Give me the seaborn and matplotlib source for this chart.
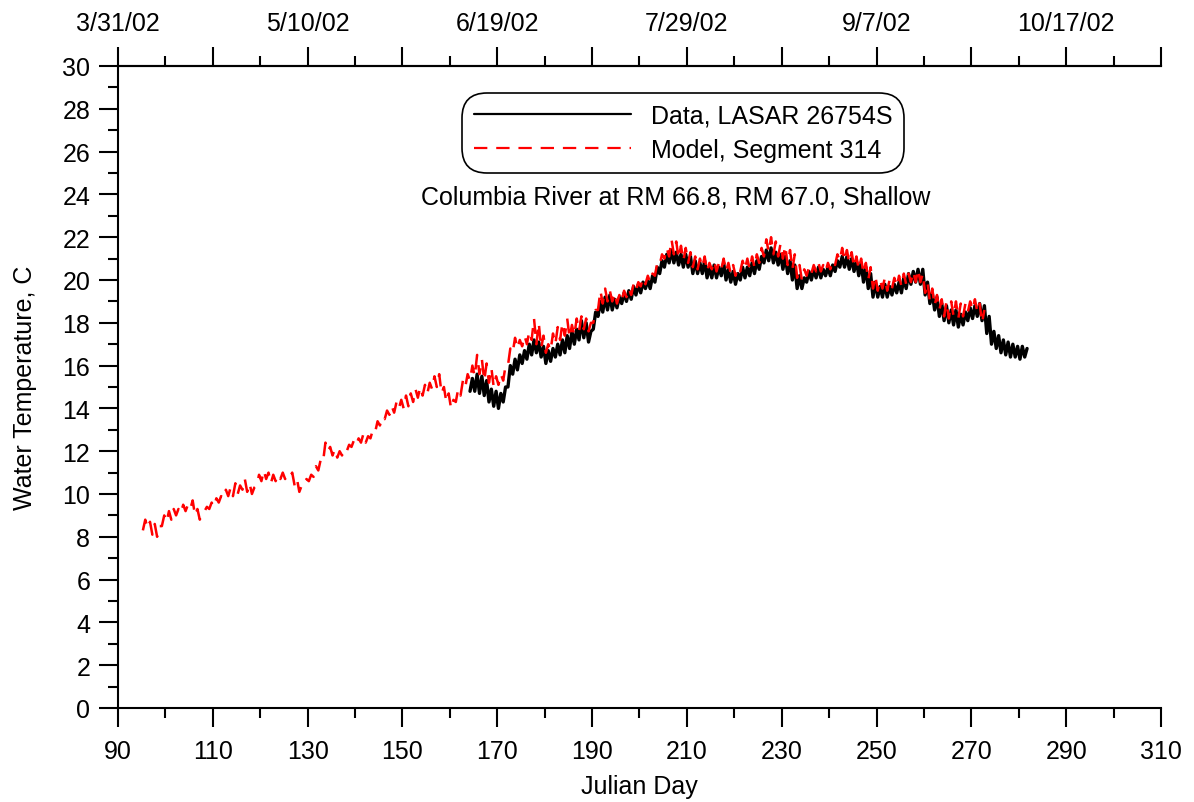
import numpy as np
import pandas as pd
import matplotlib
matplotlib.use("Agg")
import matplotlib.pyplot as plt
import seaborn as sns

# ---------------- data ----------------
model_days = list(range(95, 273))
model_lo = [8.3, 8.4, 8.1, 8.0, 8.5, 8.7, 8.8, 9.0, 9.1, 9.2, 9.3, 9.0, 8.8, 9.2, 9.3, 9.4,
            9.6, 9.8, 9.9, 9.9, 10.0, 10.2, 10.1, 10.0, 10.4, 10.6, 10.7, 10.5, 10.6, 10.7,
            10.7, 10.8, 10.4, 10.1, 10.4, 10.6, 10.8, 11.1, 11.5, 12.0, 11.8, 11.7, 11.8,
            12.0, 12.2, 12.3, 12.4, 12.4, 12.6, 12.9, 13.2, 13.5, 13.7, 13.8, 14.0, 14.0,
            14.1, 14.3, 14.5, 14.6, 14.7, 14.9, 15.0, 14.7, 14.3, 14.0, 14.3, 14.6, 15.0,
            15.3, 15.5, 15.6, 15.3, 15.2, 15.0, 15.1, 15.3, 16.0, 16.6, 16.8, 16.9, 17.0,
            17.2, 17.0, 16.8, 16.6, 16.7, 17.0, 17.2, 17.4, 17.3, 17.4, 17.6, 17.7, 17.6,
            18.0, 18.6, 18.9, 19.0, 19.0, 18.9, 19.0, 19.2, 19.3, 19.5, 19.7, 19.8, 19.9,
            20.2, 20.7, 21.0, 21.1, 21.2, 21.0, 20.9, 20.8, 20.6, 20.5, 20.6, 20.4, 20.5,
            20.4, 20.5, 20.4, 20.3, 20.2, 20.4, 20.5, 20.5, 20.6, 20.8, 21.1, 21.3, 21.2,
            21.1, 21.0, 20.7, 20.5, 20.1, 20.0, 20.2, 20.3, 20.4, 20.4, 20.4, 20.5, 20.7,
            20.9, 20.9, 20.8, 20.6, 20.5, 20.3, 20.0, 19.6, 19.5, 19.6, 19.5, 19.6, 19.7,
            19.7, 19.8, 19.9, 19.9, 19.9, 19.4, 19.0, 18.8, 18.6, 18.3, 18.2, 18.3, 18.2,
            18.3, 18.5, 18.6, 18.5, 18.0]
model_hi = [8.8, 8.7, 8.6, 8.5, 9.0, 9.2, 9.3, 9.3, 9.5, 9.5, 9.7, 9.3, 9.1, 9.4, 9.6, 9.8,
            9.9, 10.2, 10.3, 10.5, 10.4, 10.7, 10.5, 10.3, 10.9, 11.1, 11.0, 10.9, 10.9, 11.0,
            10.9, 11.0, 10.7, 10.4, 10.7, 10.9, 11.3, 11.6, 12.4, 12.2, 12.1, 12.0, 12.1,
            12.3, 12.5, 12.6, 12.8, 12.7, 13.0, 13.4, 13.6, 13.9, 14.1, 14.3, 14.4, 14.6,
            14.7, 14.9, 15.0, 15.1, 15.2, 15.5, 15.6, 15.0, 14.7, 14.4, 14.9, 15.3, 15.6,
            16.0, 16.5, 16.3, 16.1, 15.9, 15.5, 15.6, 16.0, 16.8, 17.3, 17.2, 17.4, 17.6,
            18.2, 18.0, 17.4, 17.0, 17.5, 17.8, 18.0, 18.2, 17.9, 18.2, 18.3, 18.2, 18.0,
            18.6, 19.5, 19.6, 19.5, 19.4, 19.3, 19.5, 19.6, 19.8, 19.9, 20.1, 20.2, 20.3,
            20.8, 21.2, 21.5, 21.9, 21.8, 21.6, 21.5, 21.3, 21.1, 21.0, 21.1, 20.8, 20.9,
            20.8, 21.0, 20.8, 20.7, 20.6, 20.9, 21.0, 21.1, 21.2, 21.5, 21.9, 22.0, 21.8,
            21.7, 21.6, 21.4, 21.2, 20.7, 20.5, 20.6, 20.7, 20.8, 20.7, 20.8, 20.9, 21.2,
            21.5, 21.4, 21.3, 21.1, 21.0, 20.8, 20.6, 20.2, 20.0, 20.1, 20.0, 20.1, 20.2,
            20.3, 20.3, 20.4, 20.5, 20.3, 19.9, 19.6, 19.3, 19.1, 19.0, 19.0, 19.0, 18.9,
            18.9, 19.0, 19.1, 18.9, 18.6]

data_days = list(range(164, 282))
data_lo = [14.8, 14.8, 14.7, 14.6, 14.3, 14.1, 14.0, 14.3, 15.0, 15.6, 15.8, 16.1, 16.3,
           16.5, 16.6, 16.4, 16.1, 16.2, 16.4, 16.5, 16.6, 16.8, 17.0, 17.2, 17.3, 17.1,
           17.7, 18.3, 18.5, 18.6, 18.6, 18.7, 18.9, 19.0, 19.1, 19.3, 19.4, 19.6, 19.6,
           19.9, 20.3, 20.6, 20.8, 20.8, 20.7, 20.6, 20.6, 20.3, 20.3, 20.3, 20.1, 20.1,
           20.1, 20.2, 20.0, 19.9, 19.8, 20.0, 20.1, 20.2, 20.3, 20.5, 20.8, 20.9, 20.8,
           20.7, 20.5, 20.3, 20.0, 19.6, 19.6, 19.9, 20.0, 20.1, 20.1, 20.2, 20.2, 20.4,
           20.6, 20.6, 20.5, 20.4, 20.2, 19.9, 19.6, 19.2, 19.2, 19.2, 19.2, 19.3, 19.4,
           19.4, 19.6, 19.8, 19.9, 19.8, 19.3, 18.9, 18.6, 18.3, 18.1, 18.0, 17.9, 17.8,
           17.9, 18.1, 18.2, 18.3, 18.1, 17.5, 17.0, 16.8, 16.6, 16.5, 16.4, 16.4, 16.3,
           16.4]
data_hi = [15.4, 15.6, 15.5, 15.3, 14.9, 14.8, 14.7, 15.0, 16.0, 16.3, 16.5, 16.7, 17.0,
           17.2, 17.1, 16.9, 16.7, 16.8, 17.0, 17.2, 17.4, 17.6, 17.7, 18.1, 18.0, 17.6,
           18.5, 19.0, 19.2, 19.3, 19.1, 19.2, 19.4, 19.5, 19.7, 19.8, 19.9, 20.0, 20.2,
           20.6, 20.9, 21.2, 21.4, 21.3, 21.2, 21.2, 21.1, 20.9, 20.8, 20.9, 20.6, 20.7,
           20.6, 20.8, 20.5, 20.4, 20.3, 20.6, 20.6, 20.8, 20.9, 21.1, 21.4, 21.5, 21.3,
           21.2, 21.1, 20.9, 20.7, 20.2, 20.1, 20.4, 20.5, 20.6, 20.5, 20.6, 20.7, 20.9,
           21.1, 21.1, 21.0, 20.9, 20.8, 20.6, 20.3, 19.9, 19.7, 19.8, 19.7, 19.8, 19.9,
           20.1, 20.3, 20.4, 20.5, 20.5, 19.9, 19.4, 19.2, 18.9, 18.8, 18.6, 18.6, 18.4,
           18.5, 18.7, 18.8, 18.9, 18.8, 18.3, 17.6, 17.4, 17.2, 17.1, 17.0, 16.9, 16.9,
           16.8]

top_tick_days = [90, 130, 170, 210, 250, 290]
top_tick_labels = ["3/31/02", "5/10/02", "6/19/02", "7/29/02", "9/7/02", "10/17/02"]

legend_labels = ["Data, LASAR 26754S", "Model, Segment 314"]
subtitle = "Columbia River at RM 66.8, RM 67.0, Shallow"


def diurnal(days, lo, hi):
    xs, ys = [], []
    for d, a, b in zip(days, lo, hi):
        xs += [d + 0.25, d + 0.75]
        ys += [a, b]
    return pd.DataFrame({"day": xs, "temp": ys})


df_model = diurnal(model_days, model_lo, model_hi)
df_data = diurnal(data_days, data_lo, data_hi)

# ---------------- style ----------------
sns.set_style("ticks")
plt.rcParams["font.family"] = ["Liberation Sans", "DejaVu Sans"]
plt.rcParams["axes.linewidth"] = 1.5
for k in ["text.color", "axes.labelcolor", "xtick.color", "ytick.color", "axes.edgecolor"]:
    plt.rcParams[k] = "black"

FS = 18

fig = plt.figure(figsize=(11.94, 8.03), dpi=100)
ax = fig.add_axes([118 / 1194, 1 - 709 / 803, (1161 - 118) / 1194, (709 - 67) / 803])

sns.lineplot(data=df_data, x="day", y="temp", ax=ax, color="black", lw=2.4,
             estimator=None, sort=False, label=legend_labels[0])
sns.lineplot(data=df_model, x="day", y="temp", ax=ax, color="red", lw=1.8,
             estimator=None, sort=False, label=legend_labels[1],
             linestyle=(0, (6, 4)))

ax.set_xlim(90, 310)
ax.set_ylim(0, 30)
ax.set_xticks(np.arange(90, 311, 20))
ax.set_xticks(np.arange(90, 311, 10), minor=True)
ax.set_yticks(np.arange(0, 31, 2))
ax.set_yticks(np.arange(0, 31, 1), minor=True)
ax.tick_params(axis="both", which="major", length=14, width=1.5, labelsize=FS,
               direction="out", colors="black")
ax.tick_params(axis="both", which="minor", length=7, width=1.5, direction="out",
               colors="black")
ax.tick_params(axis="x", which="major", pad=8)
ax.tick_params(axis="y", which="major", pad=6)
ax.spines["right"].set_visible(False)
ax.spines["top"].set_visible(True)

ax.set_xlabel("Julian Day", fontsize=FS, labelpad=8, color="black")
ax.set_ylabel("Water Temperature, C", fontsize=FS, labelpad=18, color="black")

# top axis with dates
ax2 = ax.twiny()
ax2.set_xlim(ax.get_xlim())
major_top = list(np.arange(90, 311, 20))
ax2.set_xticks(major_top)
ax2.set_xticklabels([top_tick_labels[top_tick_days.index(t)] if t in top_tick_days else ""
                     for t in major_top])
ax2.set_xticks(np.arange(90, 311, 10), minor=True)
ax2.tick_params(axis="x", which="major", length=14, width=1.5, labelsize=FS, pad=8,
                colors="black")
ax2.tick_params(axis="x", which="minor", length=7, width=1.5, colors="black")
for s in ["right", "left", "bottom"]:
    ax2.spines[s].set_visible(False)
ax2.spines["top"].set_linewidth(1.5)

# legend
leg = ax.legend(loc="center", bbox_to_anchor=(0.542, 0.896), fontsize=FS,
                frameon=True, fancybox=True, edgecolor="black", framealpha=1,
                handlelength=6.3, handletextpad=0.8, borderpad=0.25, labelspacing=0.4)
leg.get_frame().set_linewidth(1.2)
leg.get_frame().set_boxstyle("round,pad=0.2,rounding_size=1.0")
for t in leg.get_texts():
    t.set_color("black")
for h in leg.get_lines():
    h.set_linewidth(1.6)

ax.text(0.535, 0.7975, subtitle, transform=ax.transAxes, ha="center", va="center",
        fontsize=FS, color="black")

fig.savefig("out.png", dpi=100)
